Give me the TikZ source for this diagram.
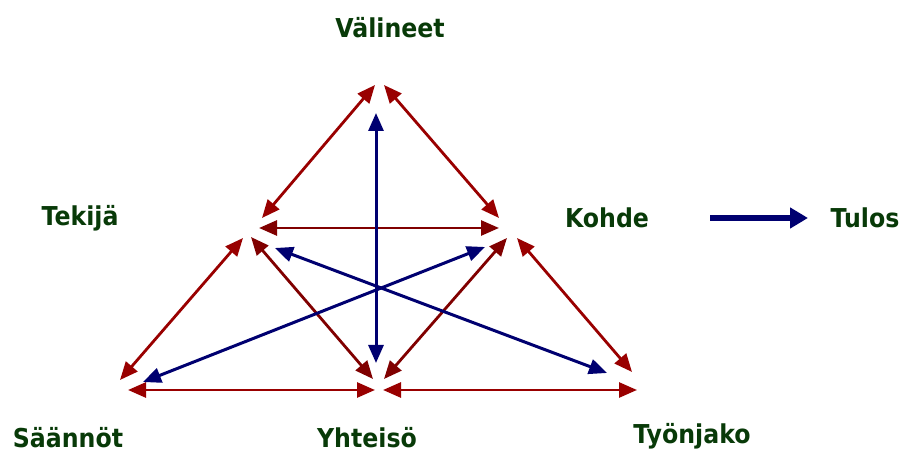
\documentclass[tikz,border=0pt]{standalone}
\usepackage{fontspec}
\setmainfont{DejaVu Sans}
\usetikzlibrary{arrows.meta}
\definecolor{tgreen}{RGB}{8,58,8}
\definecolor{tred}{RGB}{153,0,0}
\definecolor{tdred}{RGB}{128,0,0}
\definecolor{tblue}{RGB}{0,0,112}
\newcommand\Lbl[1]{\scalebox{0.91}[1]{#1}}
\tikzset{
  term/.style={
    font=\fontsize{26}{28}\selectfont\bfseries,
    text=tgreen,
    inner sep=0pt
  },
  link/.style={
    draw=tred,
    line width=2.8pt,
    {Triangle[length=18pt,width=15pt]}-{Triangle[length=18pt,width=15pt]}
  },
  linkd/.style={
    link,
    draw=tdred
  },
  flow/.style={
    draw=tblue,
    line width=3pt,
    {Triangle[length=18pt,width=15pt]}-{Triangle[length=18pt,width=15pt]}
  },
  result/.style={
    draw=tblue,
    line width=5.5pt,
    -{Triangle[length=18pt,width=20pt]}
  }
}

\begin{document}
\begin{tikzpicture}[x=1pt,y=-1pt]
    \useasboundingbox (0,0) rectangle (903,454);

    % labels
    \node[term] (valineet) at (390,28) {\Lbl{Välineet}};
    \node[term] (tekija) at (80,218) {\Lbl{Tekijä}};
    \node[term] (kohde) at (607,218) {\Lbl{Kohde}};
    \node[term] (tulos) at (865,218) {\Lbl{Tulos}};
    \node[term] (saannot) at (68,438) {\Lbl{Säännöt}};
    \node[term] (yhteiso) at (367,438) {\Lbl{Yhteisö}};
    \node[term] (tyonjako) at (692,436) {\Lbl{Työnjako}};

    % end points near the corners
    \coordinate (vL) at (375,85);
    \coordinate (vR) at (384,85);
    \coordinate (vB) at (376,113);
    \coordinate (tA) at (262,218);
    \coordinate (tH) at (259,228);
    \coordinate (tL) at (243,238);
    \coordinate (tR) at (251,237);
    \coordinate (tB) at (275,248);
    \coordinate (kA) at (499,218);
    \coordinate (kH) at (499,228);
    \coordinate (kL) at (507,238);
    \coordinate (kR) at (517,238);
    \coordinate (kB) at (485,247);
    \coordinate (sA) at (120,380);
    \coordinate (sB) at (143,382);
    \coordinate (sH) at (128,390);
    \coordinate (yB) at (376,363);
    \coordinate (yL) at (373,379);
    \coordinate (yR) at (384,379);
    \coordinate (yHL) at (375,390);
    \coordinate (yHR) at (383,390);
    \coordinate (jB) at (607,373);
    \coordinate (jA) at (632,372);
    \coordinate (jH) at (637,390);
    \coordinate (rS) at (710,218);
    \coordinate (rE) at (808,218);

    % red links
    \draw[link] (vL) -- (tA);
    \draw[link] (vR) -- (kA);
    \draw[linkd] (tH) -- (kH);
    \draw[link] (tL) -- (sA);
    \draw[linkd] (tR) -- (yL);
    \draw[linkd] (kL) -- (yR);
    \draw[link] (kR) -- (jA);
    \draw[link] (sH) -- (yHL);
    \draw[link] (yHR) -- (jH);

    % blue links
    \draw[flow] (vB) -- (yB);
    \draw[flow] (kB) -- (sB);
    \draw[flow] (tB) -- (jB);
    \draw[result] (rS) -- (rE);
\end{tikzpicture}
\end{document}
